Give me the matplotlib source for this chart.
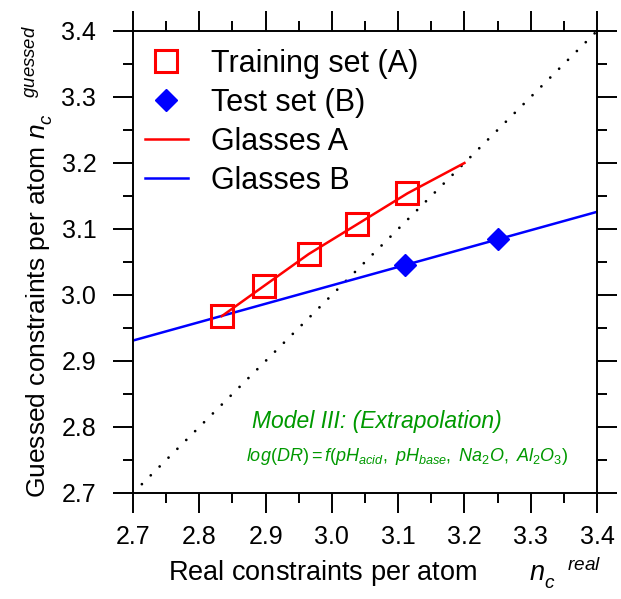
import matplotlib
matplotlib.use("Agg")
import matplotlib.pyplot as plt
from matplotlib.ticker import MultipleLocator
from matplotlib.lines import Line2D

plt.rcParams['font.family'] = ['Liberation Sans', 'DejaVu Sans']
plt.rcParams['mathtext.fontset'] = 'custom'
plt.rcParams['mathtext.rm'] = 'Liberation Sans'
plt.rcParams['mathtext.it'] = 'Liberation Sans:italic'

# Training set (A): real vs guessed constraints
train_x = [2.834, 2.898, 2.965, 3.038, 3.114]
train_y = [2.968, 3.014, 3.062, 3.107, 3.154]
# Glasses A fit line (extends to 3.2)
lineA_x = [2.834, 2.898, 2.965, 3.038, 3.114, 3.200]
lineA_y = [2.968, 3.014, 3.062, 3.107, 3.154, 3.200]
# Test set (B)
test_x = [3.111, 3.250]
test_y = [3.046, 3.085]
# Glasses B fit line
lineB_x = [2.70, 3.40]
lineB_y = [2.931, 3.126]
# identity line
diag = [2.70, 3.40]

green = '#009900'

fig = plt.figure(figsize=(6.21, 5.99), dpi=100)
ax = fig.add_axes([133 / 621, 1 - 493 / 599, 464 / 621, 462 / 599])

ax.plot(diag, diag, color='black', lw=2.0, linestyle=(0, (0.01, 4.5)),
        dash_capstyle='round')
ax.plot(lineB_x, lineB_y, color='#0000ff', lw=1.8)
ax.plot(lineA_x, lineA_y, color='#ff0000', lw=1.8)
ax.plot(train_x, train_y, 's', mfc='none', mec='#ff0000', ms=16, mew=2.2)
ax.plot(test_x, test_y, 'D', color='#0000ff', ms=11)

ax.set_xlim(2.7, 3.4)
ax.set_ylim(2.7, 3.4)
ax.xaxis.set_major_locator(MultipleLocator(0.1))
ax.yaxis.set_major_locator(MultipleLocator(0.1))
ax.xaxis.set_minor_locator(MultipleLocator(0.05))
ax.yaxis.set_minor_locator(MultipleLocator(0.05))
ax.xaxis.set_major_formatter(plt.FormatStrFormatter('%.1f'))
ax.yaxis.set_major_formatter(plt.FormatStrFormatter('%.1f'))
ax.tick_params(which='both', direction='out', top=True, right=True,
               width=1.4, labelsize=18)
ax.tick_params(which='major', length=14.4)
ax.tick_params(axis='x', which='major', pad=9)
ax.tick_params(axis='y', which='major', pad=12)
ax.tick_params(which='minor', length=7.2)
for s in ax.spines.values():
    s.set_linewidth(1.4)

ax.set_xlabel(r'Real constraints per atom$\ \ \ \ \ \ \ n_c^{\ \ \ \ real}$',
              fontsize=19.5)
ax.xaxis.set_label_coords(0.543, -0.133)
ax.set_ylabel(r'Guessed constraints per atom $n_c^{\ \ \ \ \ guessed}$',
              fontsize=19, labelpad=5)

ax.text(3.068, 2.808, 'Model III: (Extrapolation)', color=green,
        fontsize=16.5, style='italic', ha='center', va='center')
ax.text(3.113, 2.755,
        r'$\mathit{log(DR)=f(pH_{acid},\ pH_{base},\ Na_2O,\ Al_2O_3)}$',
        color=green, fontsize=13, ha='center', va='center')

handles = [
    Line2D([], [], ls='none', marker='s', mfc='none', mec='#ff0000', ms=16, mew=2.2),
    Line2D([], [], ls='none', marker='D', color='#0000ff', ms=11),
    Line2D([], [], color='#ff0000', lw=1.8),
    Line2D([], [], color='#0000ff', lw=1.8),
]
labels = ['Training set (A)', 'Test set (B)', 'Glasses A', 'Glasses B']
ax.legend(handles, labels, loc='upper left', bbox_to_anchor=(0.026, 0.962),
          frameon=False, fontsize=22, handlelength=1.4, handletextpad=0.75,
          labelspacing=0.30, borderpad=0, borderaxespad=0, numpoints=1)

fig.savefig('out.png', dpi=100)
